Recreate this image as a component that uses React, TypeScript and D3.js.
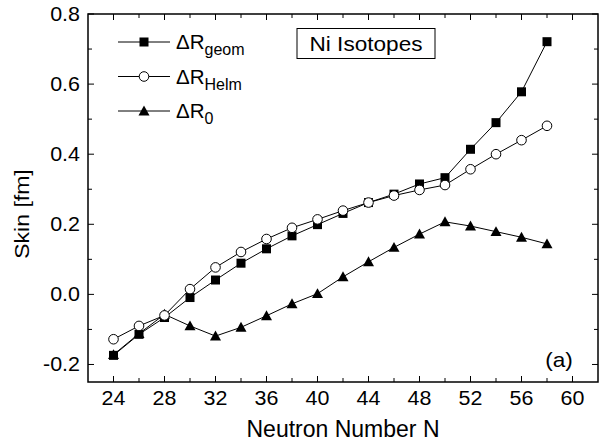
import React from "react";
import * as d3 from "d3";

const neutrons = [24, 26, 28, 30, 32, 34, 36, 38, 40, 42, 44, 46, 48, 50, 52, 54, 56, 58];
const rGeom = [-0.174, -0.114, -0.066, -0.009, 0.041, 0.089, 0.13, 0.167, 0.199, 0.231, 0.262, 0.286, 0.315, 0.333, 0.414, 0.49, 0.578, 0.721];
const rHelm = [-0.128, -0.09, -0.06, 0.015, 0.077, 0.121, 0.158, 0.19, 0.214, 0.239, 0.262, 0.282, 0.298, 0.312, 0.357, 0.4, 0.44, 0.481];
const r0 = [-0.172, -0.112, -0.057, -0.09, -0.119, -0.094, -0.061, -0.027, 0.002, 0.05, 0.093, 0.134, 0.172, 0.207, 0.195, 0.179, 0.163, 0.144];
const xTickLabels = [24, 28, 32, 36, 40, 44, 48, 52, 56, 60];
const xMinorTicks = [26, 30, 34, 38, 42, 46, 50, 54, 58];
const yTickLabels = [-0.2, 0.0, 0.2, 0.4, 0.6, 0.8];
const yMinorTicks = [-0.1, 0.1, 0.3, 0.5, 0.7];

const W = 600, H = 442;
const L = 88, R = 598, T = 14, B = 382;
const FONT = "'Liberation Sans', Arial, Helvetica, sans-serif";

export default function App() {
  const x = d3.scaleLinear().domain([22, 62]).range([L, R]);
  const y = d3.scaleLinear().domain([-0.25, 0.8]).range([B, T]);
  const line = d3.line<[number, number]>().x(d => x(d[0])).y(d => y(d[1]));

  const series = [
    { name: "geom", values: rGeom, marker: "square" },
    { name: "Helm", values: rHelm, marker: "circle" },
    { name: "0", values: r0, marker: "triangle" },
  ];

  const marker = (type: string, cx: number, cy: number, key: any) => {
    if (type === "square") return <rect key={key} x={cx - 4.5} y={cy - 4.5} width={9} height={9} fill="#000" />;
    if (type === "circle") return <circle key={key} cx={cx} cy={cy} r={4.8} fill="#fff" stroke="#000" strokeWidth={1} />;
    const s = 5.5;
    return <path key={key} d={`M${cx},${cy - s}L${cx + s},${cy + s * 0.8}L${cx - s},${cy + s * 0.8}Z`} fill="#000" />;
  };

  const fmt = (v: number) => d3.format(".1f")(v).replace("\u2212", "-");

  return (
    <svg width={W} height={H} style={{ position: "absolute", left: 0, top: 0, background: "#fff" }} fontFamily={FONT}>
      <rect x={0} y={0} width={W} height={H} fill="#fff" />
      {series.map((s, i) => (
        <path key={"l" + i} d={line(neutrons.map((n, j) => [n, s.values[j]] as [number, number])) || ""} fill="none" stroke="#000" strokeWidth={1} />
      ))}
      {[series[2], series[0], series[1]].map((s, i) => (
        <g key={"m" + i}>{neutrons.map((n, j) => marker(s.marker, x(n), y(s.values[j]), j))}</g>
      ))}
      <rect x={L} y={T} width={R - L} height={B - T} fill="none" stroke="#000" strokeWidth={1.5} />
      {xTickLabels.map(t => (
        <g key={"xt" + t}>
          <line x1={x(t)} x2={x(t)} y1={B} y2={B - 6} stroke="#000" strokeWidth={1} />
          <line x1={x(t)} x2={x(t)} y1={T} y2={T + 6} stroke="#000" strokeWidth={1} />
          <text transform={`translate(${x(t)},405) scale(1.1,1)`} textAnchor="middle" fontSize={19.5}>{t}</text>
        </g>
      ))}
      {xMinorTicks.map(t => (
        <g key={"xm" + t}>
          <line x1={x(t)} x2={x(t)} y1={B} y2={B - 4} stroke="#000" strokeWidth={1} />
          <line x1={x(t)} x2={x(t)} y1={T} y2={T + 4} stroke="#000" strokeWidth={1} />
        </g>
      ))}
      {yTickLabels.map(t => (
        <g key={"yt" + t}>
          <line x1={L} x2={L + 6} y1={y(t)} y2={y(t)} stroke="#000" strokeWidth={1} />
          <line x1={R} x2={R - 6} y1={y(t)} y2={y(t)} stroke="#000" strokeWidth={1} />
          <text transform={`translate(80,${y(t) + 7}) scale(1.1,1)`} textAnchor="end" fontSize={19.5}>{fmt(t)}</text>
        </g>
      ))}
      {yMinorTicks.map(t => (
        <g key={"ym" + t}>
          <line x1={L} x2={L + 4} y1={y(t)} y2={y(t)} stroke="#000" strokeWidth={1} />
          <line x1={R} x2={R - 4} y1={y(t)} y2={y(t)} stroke="#000" strokeWidth={1} />
        </g>
      ))}
      <text x={343} y={437} textAnchor="middle" fontSize={23}>Neutron Number N</text>
      <text transform={`translate(29,214) rotate(-90) scale(1.18,1)`} textAnchor="middle" fontSize={19.5}>Skin [fm]</text>
      {series.map((s, i) => {
        const ly = 42 + i * 34.5;
        return (
          <g key={"lg" + i}>
            <line x1={118} x2={170} y1={ly} y2={ly} stroke="#000" strokeWidth={1} />
            {marker(s.marker, 144, ly, "lm")}
            <text x={176} y={ly + 7} fontSize={20.5}>
              ΔR<tspan fontSize={16} dy={6}>{s.name}</tspan>
            </text>
          </g>
        );
      })}
      <rect x={297} y={28.5} width={138} height={30} fill="#fff" stroke="#000" strokeWidth={1} />
      <text transform="translate(366,50.5) scale(1.13,1)" textAnchor="middle" fontSize={20}>Ni Isotopes</text>
      <text transform="translate(559,367) scale(1.13,1)" textAnchor="middle" fontSize={20}>(a)</text>
    </svg>
  );
}
